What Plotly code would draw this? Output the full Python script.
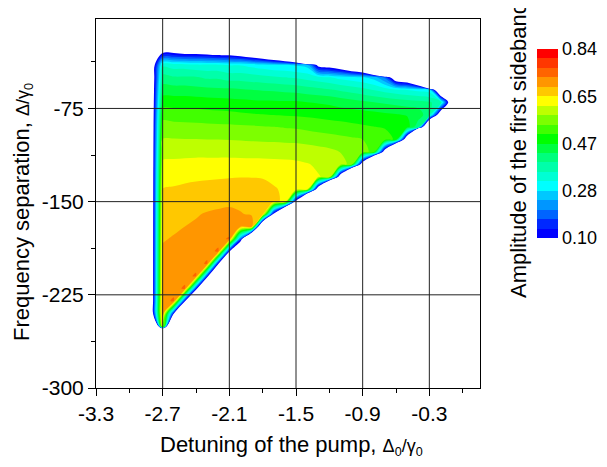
import plotly.graph_objects as go
import numpy as np

# ---- data ----
X_COLS = [-2.8, -2.7, -2.6, -2.5, -2.4, -2.3, -2.2, -2.1, -2.0, -1.9,
          -1.8, -1.7, -1.6, -1.5, -1.4, -1.3, -1.2, -1.1, -1.0, -0.9,
          -0.8, -0.7, -0.6, -0.5, -0.4, -0.3, -0.2, -0.1, 0.0]
Y_ROWS = [-20, -30, -40, -50, -60, -70, -80, -90, -100, -110, -120, -130,
          -140, -150, -160, -170, -180, -190, -200, -210, -220, -230, -240,
          -250, -260]
Z_ROWS = [
    [0, 0, 0, 0, 0, 0, 0, 0, 0, 0, 0, 0, 0, 0, 0, 0, 0, 0, 0, 0, 0, 0, 0, 0, 0, 0, 0, 0, 0],
    [0, .09, .09, .07, .07, .06, .04, .04, .01, -.04, -.10, -.19, -.34, -.62, -3.0, 0, 0, 0, 0, 0, 0, 0, 0, 0, 0, 0, 0, 0, 0],
    [0, .35, .34, .34, .33, .33, .33, .32, .32, .31, .30, .29, .29, .28, .27, .07, .04, -.01, -.10, -.19, -.58, -2.0, 0, 0, 0, 0, 0, 0, 0],
    [0, .41, .40, .40, .40, .39, .39, .38, .38, .375, .37, .365, .36, .355, .345, .335, .325, .31, .30, .29, .27, .20, 0, -.05, -.29, -2.0, 0, 0, 0],
    [0, .45, .45, .45, .445, .443, .44, .44, .437, .433, .43, .427, .423, .42, .413, .407, .40, .39, .38, .37, .357, .343, .33, .32, .31, .30, -.15, 0, 0],
    [0, .49, .49, .49, .49, .487, .485, .483, .48, .478, .476, .476, .475, .475, .47, .467, .463, .455, .448, .44, .433, .427, .42, .413, .407, .40, .38, -.02, 0],
    [0, .53, .527, .525, .523, .52, .518, .516, .513, .51, .508, .506, .504, .502, .50, .497, .494, .491, .489, .486, .482, .477, .473, .467, .46, .40, -.02, 0, 0],
    [0, .56, .557, .556, .555, .554, .553, .552, .55, .549, .547, .545, .542, .54, .535, .53, .525, .521, .516, .512, .508, .504, .50, .49, .40, -.35, 0, 0, 0],
    [0, .583, .583, .582, .582, .581, .581, .58, .579, .577, .576, .575, .573, .572, .568, .564, .56, .555, .55, .544, .535, .525, .50, -.07, -2.6, 0, 0, 0, 0],
    [0, .606, .606, .607, .607, .607, .607, .607, .606, .606, .605, .605, .604, .603, .60, .595, .59, .58, .57, .56, .53, -.01, -.83, 0, 0, 0, 0, 0, 0],
    [0, .625, .627, .629, .631, .631, .631, .631, .631, .63, .63, .628, .627, .625, .62, .613, .605, .595, .57, -.02, -.90, 0, 0, 0, 0, 0, 0, 0, 0],
    [0, .643, .645, .648, .65, .651, .652, .653, .654, .654, .653, .648, .642, .635, .63, .62, .61, -.02, -1.0, 0, 0, 0, 0, 0, 0, 0, 0, 0, 0],
    [0, .656, .658, .661, .663, .665, .667, .669, .669, .668, .665, .658, .65, .645, .63, -.03, -1.09, 0, 0, 0, 0, 0, 0, 0, 0, 0, 0, 0, 0],
    [0, .664, .668, .671, .675, .679, .683, .686, .685, .68, .675, .665, .645, .04, -.88, 0, 0, 0, 0, 0, 0, 0, 0, 0, 0, 0, 0, 0, 0],
    [0, .672, .677, .683, .689, .695, .698, .70, .694, .688, .685, .07, -.59, 0, 0, 0, 0, 0, 0, 0, 0, 0, 0, 0, 0, 0, 0, 0, 0],
    [0, .681, .686, .692, .697, .702, .706, .71, .70, .72, -.29, 0, 0, 0, 0, 0, 0, 0, 0, 0, 0, 0, 0, 0, 0, 0, 0, 0, 0],
    [0, .689, .695, .70, .705, .712, .72, .733, .20, -.52, 0, 0, 0, 0, 0, 0, 0, 0, 0, 0, 0, 0, 0, 0, 0, 0, 0, 0, 0],
    [0, .697, .703, .708, .712, .72, .733, .11, -.30, 0, 0, 0, 0, 0, 0, 0, 0, 0, 0, 0, 0, 0, 0, 0, 0, 0, 0, 0, 0],
    [0, .703, .708, .713, .718, .733, .11, -.40, 0, 0, 0, 0, 0, 0, 0, 0, 0, 0, 0, 0, 0, 0, 0, 0, 0, 0, 0, 0, 0],
    [0, .709, .715, .72, .733, .15, -.40, 0, 0, 0, 0, 0, 0, 0, 0, 0, 0, 0, 0, 0, 0, 0, 0, 0, 0, 0, 0, 0, 0],
    [0, .714, .72, .733, .15, -.40, 0, 0, 0, 0, 0, 0, 0, 0, 0, 0, 0, 0, 0, 0, 0, 0, 0, 0, 0, 0, 0, 0, 0],
    [0, .72, .733, .11, -.40, 0, 0, 0, 0, 0, 0, 0, 0, 0, 0, 0, 0, 0, 0, 0, 0, 0, 0, 0, 0, 0, 0, 0, 0],
    [0, .73, .11, -.50, 0, 0, 0, 0, 0, 0, 0, 0, 0, 0, 0, 0, 0, 0, 0, 0, 0, 0, 0, 0, 0, 0, 0, 0, 0],
    [-1.0, .80, -1.0, 0, 0, 0, 0, 0, 0, 0, 0, 0, 0, 0, 0, 0, 0, 0, 0, 0, 0, 0, 0, 0, 0, 0, 0, 0, 0],
    [0, -3.0, 0, 0, 0, 0, 0, 0, 0, 0, 0, 0, 0, 0, 0, 0, 0, 0, 0, 0, 0, 0, 0, 0, 0, 0, 0, 0, 0],
]

LEVEL_START = 0.10
LEVEL_END = 0.84
LEVEL_STEP = 0.037
BAND_COLORS = [
    "rgb(0,0,255)", "rgb(0,40,255)", "rgb(0,100,255)", "rgb(0,150,255)",
    "rgb(0,200,255)", "rgb(0,255,255)", "rgb(0,255,212)", "rgb(0,255,170)",
    "rgb(0,255,125)", "rgb(0,255,65)", "rgb(0,255,0)", "rgb(65,255,0)",
    "rgb(125,255,0)", "rgb(190,255,0)", "rgb(255,255,0)", "rgb(255,200,0)",
    "rgb(255,150,0)", "rgb(255,100,0)", "rgb(255,55,0)", "rgb(255,0,0)",
]
CB_TICKVALS = [0.10, 0.285, 0.47, 0.655, 0.84]
CB_TICKTEXT = ["0.10", "0.28", "0.47", "0.65", "0.84"]

X_TICKS = [-3.3, -2.7, -2.1, -1.5, -0.9, -0.3]
X_TICKTEXT = ["-3.3", "-2.7", "-2.1", "-1.5", "-0.9", "-0.3"]
X_MINOR = [-3.0, -2.4, -1.8, -1.2, -0.6, 0.0]
Y_TICKS = [-300, -225, -150, -75]
Y_TICKTEXT = ["-300", "-225", "-150", "-75"]
Y_MINOR = [-262.5, -187.5, -112.5, -37.5]
X_RANGE = [-3.3, 0.156]
Y_RANGE = [-300, -3]

# ---- build ----
y_asc = Y_ROWS[::-1]
z_asc = np.array(Z_ROWS, dtype=float)[::-1]

n_levels = 21
fill_colors = ["rgb(255,255,255)"] + BAND_COLORS + [BAND_COLORS[-1]]
fill_scale = []
for k, c in enumerate(fill_colors):
    lo = max(0.0, (k - 0.5) / n_levels)
    hi = min(1.0, (k + 0.5) / n_levels)
    fill_scale.append([lo, c])
    fill_scale.append([hi, c])

nb = len(BAND_COLORS)
cb_scale = []
for k, c in enumerate(BAND_COLORS):
    cb_scale.append([k / nb, c])
    cb_scale.append([(k + 1) / nb, c])

FONT = "Liberation Sans, Arial, sans-serif"

fig = go.Figure()
fig.add_trace(go.Contour(
    x=X_COLS, y=y_asc, z=z_asc,
    autocontour=False,
    contours=dict(start=LEVEL_START, end=LEVEL_END, size=LEVEL_STEP,
                  coloring="fill", showlines=False),
    colorscale=fill_scale, showscale=False,
    line=dict(width=0, smoothing=1),
    hoverinfo="skip",
))
fig.add_trace(go.Scatter(
    x=[-10], y=[-1000], mode="markers", showlegend=False, hoverinfo="skip",
    marker=dict(size=2, color=[0.5], colorscale=cb_scale,
                cmin=LEVEL_START, cmax=LEVEL_END, showscale=True,
                colorbar=dict(x=1.148, xanchor="left", xpad=0, ypad=0,
                              y=0.6626, yanchor="middle", len=0.5122,
                              lenmode="fraction", thickness=21,
                              outlinewidth=0, ticks="",
                              tickvals=CB_TICKVALS, ticktext=CB_TICKTEXT,
                              tickfont=dict(family=FONT, size=18, color="black"))),
))

shapes = []
for xv in X_TICKS[1:]:
    shapes.append(dict(type="line", xref="x", yref="y domain", x0=xv, x1=xv,
                       y0=0, y1=1, layer="above",
                       line=dict(color="#222", width=1)))
for yv in Y_TICKS[1:]:
    shapes.append(dict(type="line", xref="x domain", yref="y", x0=0, x1=1,
                       y0=yv, y1=yv, layer="above",
                       line=dict(color="#222", width=1)))

axis_common = dict(showline=True, linecolor="black", linewidth=1, mirror=True,
                   ticks="outside", ticklen=7, tickwidth=1, tickcolor="black",
                   showgrid=False, zeroline=False,
                   tickfont=dict(family=FONT, size=21, color="black"))
fig.update_xaxes(range=X_RANGE, tickmode="array", tickvals=X_TICKS,
                 ticktext=X_TICKTEXT,
                 minor=dict(tickmode="array", tickvals=X_MINOR, ticklen=4,
                            ticks="outside", tickcolor="black", showgrid=False),
                 **axis_common)
fig.update_yaxes(range=Y_RANGE, tickmode="array", tickvals=Y_TICKS,
                 ticktext=Y_TICKTEXT,
                 minor=dict(tickmode="array", tickvals=Y_MINOR, ticklen=4,
                            ticks="outside", tickcolor="black", showgrid=False),
                 **axis_common)

annotations = [
    dict(text='Detuning of the pump, <span style="font-size:18px">Δ<sub>0</sub>/γ<sub>0</sub></span>',
         xref="paper", yref="paper", x=0.508, y=-0.157, xanchor="center",
         yanchor="middle", showarrow=False,
         font=dict(family=FONT, size=22, color="black")),
    dict(text='Frequency separation, <span style="font-size:18px">Δ/γ<sub>0</sub></span>',
         xref="paper", yref="paper", x=-0.19, y=0.477, xanchor="center",
         yanchor="middle", showarrow=False, textangle=-90,
         font=dict(family=FONT, size=22, color="black")),
    dict(text="Amplitude of the first sideband",
         xref="paper", yref="paper", x=1.1016, y=0.2385, xanchor="center",
         yanchor="bottom", showarrow=False, textangle=-90,
         font=dict(family=FONT, size=22, color="black")),
]

fig.update_layout(
    width=599, height=459, autosize=False,
    margin=dict(l=88, r=127, t=11, b=79, autoexpand=False),
    plot_bgcolor="white", paper_bgcolor="white",
    shapes=shapes, annotations=annotations, showlegend=False,
    font=dict(family=FONT, color="black"),
)

fig.write_html("out.html")
